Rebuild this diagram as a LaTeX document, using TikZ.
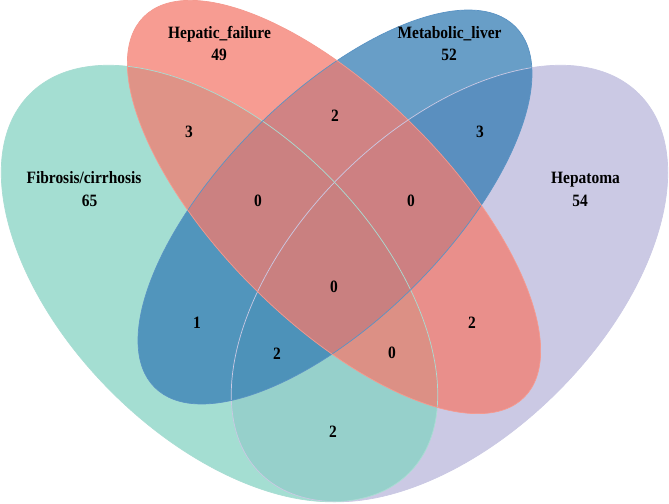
\documentclass[tikz,border=0pt]{standalone}
\usepackage{fontspec}
\setmainfont{Liberation Serif}
\usepackage{tikz}
\definecolor{fibroteal}{HTML}{85D3C3}
\definecolor{hepred}{HTML}{F47B6E}
\definecolor{metablue}{HTML}{357DB4}
\definecolor{hepalilac}{HTML}{B9B7DB}
\definecolor{fibroline}{HTML}{A9DDD3}
\definecolor{hepline}{HTML}{F59A8F}
\definecolor{metaline}{HTML}{5A93C4}
\definecolor{hepaline}{HTML}{CBC9E4}
\newcommand{\vennlobe}[6]{% cx, cy, angle, x radius, y radius, style
  \path[#6, rotate around={#3:(#1,#2)}] (#1,#2) ellipse [x radius=#4, y radius=#5];%
}
\newcommand{\tallbf}[1]{\scalebox{1}[1.12]{#1}}
\tikzset{
  lobefill/.style={fill=#1, fill opacity=0.75},
  lobeline/.style={draw=#1, line width=0.6pt},
  setname/.style={font=\fontsize{13.2}{15}\selectfont\bfseries, inner sep=0pt, anchor=base},
  regioncount/.style={font=\fontsize{13.2}{15}\selectfont\bfseries, inner sep=0pt},
}

\begin{document}
\begin{tikzpicture}[x=0.03cm, y=-0.03cm]
    \useasboundingbox (0,0) rectangle (669,504);
    % fills, back to front
    \vennlobe{449.5}{283.5}{45}{268}{153}{lobefill=hepalilac}
    \vennlobe{219.5}{283.5}{-45}{268}{153}{lobefill=fibroteal}
    \vennlobe{335}{207}{45}{255}{112}{lobefill=metablue}
    \vennlobe{334}{207}{-45}{269}{114}{lobefill=hepred}
    % outlines on top
    \vennlobe{449.5}{283.5}{45}{268}{153}{lobeline=hepaline}
    \vennlobe{219.5}{283.5}{-45}{268}{153}{lobeline=fibroline}
    \vennlobe{335}{207}{45}{255}{112}{lobeline=metaline}
    \vennlobe{334}{207}{-45}{269}{114}{lobeline=hepline}

    % set names and sizes
    \node[setname] (fibroname) at (84,183) {\tallbf{Fibrosis/cirrhosis}};
    \node[setname] (fibronum) at (89.5,206) {\tallbf{65}};
    \node[setname] (hepname) at (219.5,38) {\tallbf{Hepatic\_failure}};
    \node[setname] (hepnum) at (219,60) {\tallbf{49}};
    \node[setname] (metaname) at (449.5,38) {\tallbf{Metabolic\_liver}};
    \node[setname] (metanum) at (449,60) {\tallbf{52}};
    \node[setname] (hepaname) at (585.5,183) {\tallbf{Hepatoma}};
    \node[setname] (hepanum) at (580,206) {\tallbf{54}};

    % overlaps
    \node[regioncount] (fh) at (189,132) {\tallbf{3}};
    \node[regioncount] (hm) at (335,116) {\tallbf{2}};
    \node[regioncount] (mh) at (480,132) {\tallbf{3}};
    \node[regioncount] (fhm) at (258,201) {\tallbf{0}};
    \node[regioncount] (hmh) at (411,201) {\tallbf{0}};
    \node[regioncount] (all) at (334,287) {\tallbf{0}};
    \node[regioncount] (fm) at (197,323) {\tallbf{1}};
    \node[regioncount] (fmh) at (277,354) {\tallbf{2}};
    \node[regioncount] (fhh) at (392,353) {\tallbf{0}};
    \node[regioncount] (hh) at (472,323) {\tallbf{2}};
    \node[regioncount] (fa) at (333,432) {\tallbf{2}};
\end{tikzpicture}
\end{document}
